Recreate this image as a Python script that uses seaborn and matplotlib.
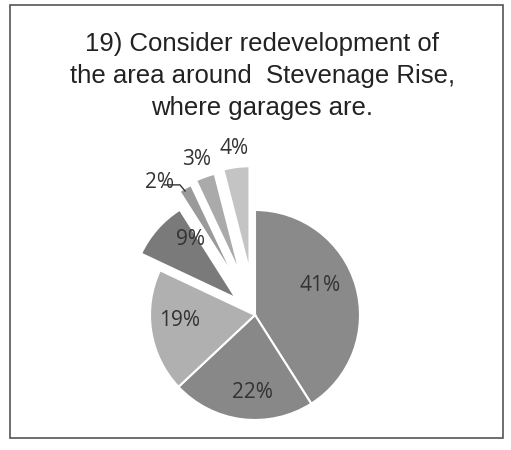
import numpy as np
import matplotlib
matplotlib.use("Agg")
import matplotlib.pyplot as plt
import seaborn as sns

sns.set_style("white")
plt.rcParams['font.family'] = ['Liberation Sans', 'DejaVu Sans']

# slices, clockwise from 12 o'clock
labels = ['41%', '22%', '19%', '9%', '2%', '3%', '4%']
values = [41, 22, 19, 9, 2, 3, 4]
colors = ['#8a8a8a', '#888888', '#b0b0b0', '#7a7a7a', '#9a9a9a', '#aaaaaa', '#c4c4c4']
explode = [0, 0, 0, 0.24, 0.38, 0.4, 0.42]
label_r = [0.68, 0.74, 0.72, 0.95, 1.55, 1.58, 1.6]
label_nudge = [8, 5, -5, -8, 7, 1, 0]

fig = plt.figure(figsize=(5.11, 4.5), dpi=100)
fig.patch.set_facecolor('white')

# frame around the chart
frame = plt.Rectangle((10 / 511, 12 / 450), 493 / 511, 433 / 450, transform=fig.transFigure,
                      fill=False, edgecolor='#555555', linewidth=1.2)
fig.patches.append(frame)

title_kw = dict(ha='center', va='center', fontsize=18.5, color='#222222')
fig.text(0.513, 0.903, '19) Consider redevelopment of', **title_kw)
fig.text(0.513, 0.832, 'the area around  Stevenage Rise,', **title_kw)
fig.text(0.513, 0.760, 'where garages are.', **title_kw)

R = 105
lim = 1.6
ax = fig.add_axes([(255 - lim * R) / 511, (135 - lim * R) / 450, 2 * lim * R / 511, 2 * lim * R / 450])
wedges, _ = ax.pie(values, colors=colors, explode=explode, startangle=90, counterclock=False,
                   wedgeprops=dict(edgecolor='white', linewidth=1.5))
ax.set_xlim(-lim, lim)
ax.set_ylim(-lim, lim)
ax.set_aspect('equal')
ax.axis('off')

for w, lab, r, nd in zip(wedges, labels, label_r, label_nudge):
    mid = np.deg2rad((w.theta1 + w.theta2) / 2 + nd)
    ax.text(r * np.cos(mid), r * np.sin(mid), lab, ha='center', va='center',
            fontsize=15, color='#333333', family=['Open Sans', 'DejaVu Sans'])

# leader line for the 2% slice
w2 = wedges[4]
m2 = np.deg2rad((w2.theta1 + w2.theta2) / 2)
tip = (w2.center[0] + 1.0 * np.cos(m2), w2.center[1] + 1.0 * np.sin(m2))
ax.plot([tip[0] - 0.2, tip[0] - 0.05, tip[0]], [tip[1] + 0.03, tip[1] + 0.03, tip[1] - 0.03],
        color='#333333', linewidth=1)

fig.savefig('out.png', dpi=100, facecolor='white')
